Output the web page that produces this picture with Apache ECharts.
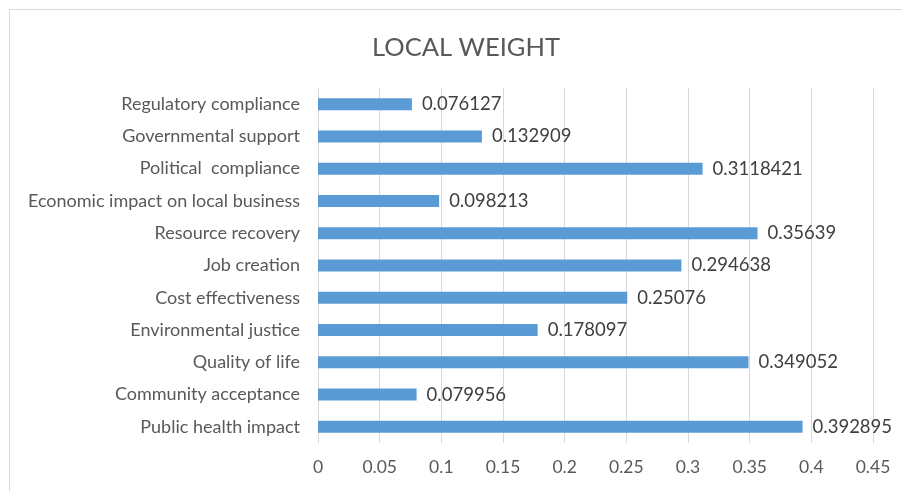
<!DOCTYPE html>
<html><head><meta charset="utf-8">
<script src="https://cdn.jsdelivr.net/npm/echarts@6/dist/echarts.min.js"></script>
<style>html,body{margin:0;padding:0;background:#fff}#c{width:902px;height:491px}</style>
</head><body><div id="c"></div>
<script>
var categories = ["Public health impact","Community acceptance","Quality of life","Environmental justice","Cost effectiveness","Job creation","Resource recovery","Economic impact on local business","Political  compliance","Governmental support","Regulatory compliance"];
var values = [0.392895,0.079956,0.349052,0.178097,0.25076,0.294638,0.35639,0.098213,0.3118421,0.132909,0.076127];
var valueLabels = ["0.392895","0.079956","0.349052","0.178097","0.25076","0.294638","0.35639","0.098213","0.3118421","0.132909","0.076127"];
var chart = echarts.init(document.getElementById('c'));
chart.setOption({
  animation:false,
  graphic:[{type:'rect',left:7,top:7,shape:{width:1000,height:600},style:{fill:'none',stroke:'#d9d9d9',lineWidth:1}}],
  title:{text:'LOCAL WEIGHT',left:367,top:30,textStyle:{fontFamily:'Lato',fontSize:25.5,fontWeight:'normal',color:'#595959'}},
  grid:{left:318,right:29,top:88,bottom:48},
  xAxis:{type:'value',min:0,max:0.45,interval:0.05,
    axisLine:{show:false},axisTick:{show:false},
    splitLine:{lineStyle:{color:'#d9d9d9'}},
    axisLabel:{color:'#595959',fontFamily:'Lato',fontSize:17.5,margin:15}},
  yAxis:{type:'category',data:categories,
    axisLine:{show:false},axisTick:{show:false},
    axisLabel:{color:'#595959',fontFamily:'Lato',fontSize:18,margin:18}},
  series:[{type:'bar',data:values,barWidth:12,
    itemStyle:{color:'#5b9bd5'},
    label:{show:true,position:'right',distance:10,color:'#404040',fontFamily:'Lato',fontSize:18.5,
      formatter:function(p){return valueLabels[p.dataIndex];}}}]
});
</script></body></html>
